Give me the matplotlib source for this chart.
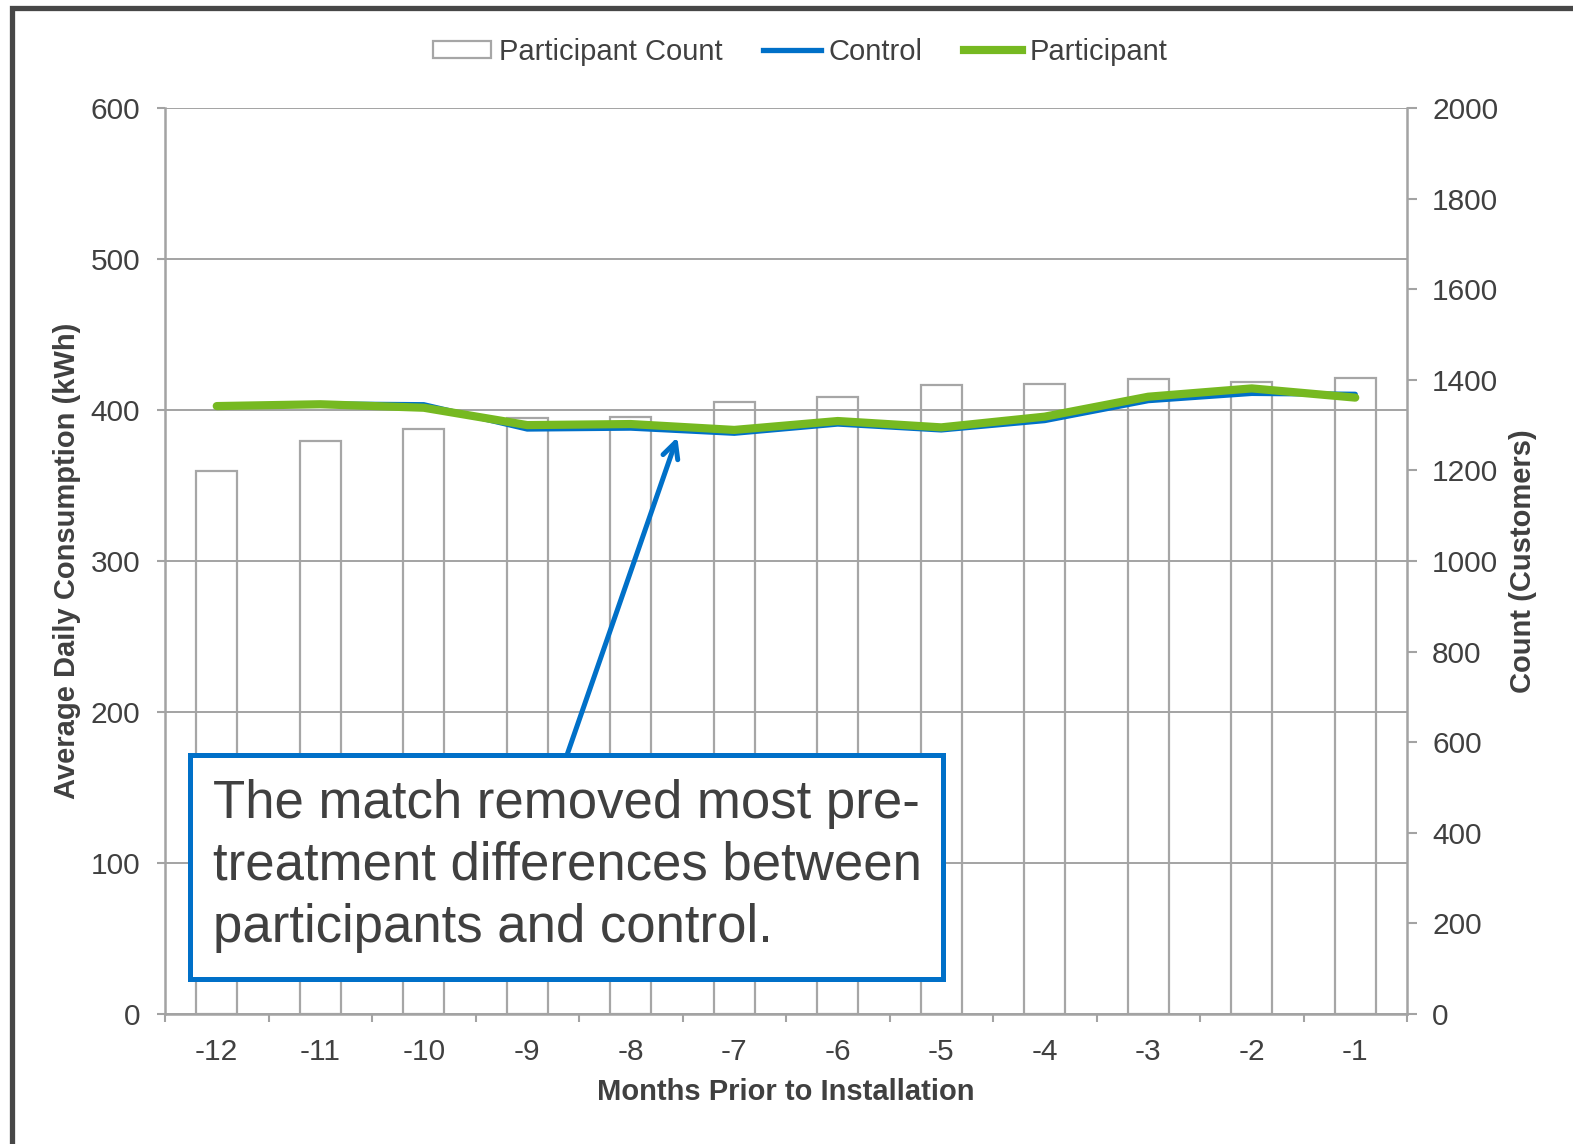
import matplotlib
matplotlib.use("Agg")
import matplotlib.pyplot as plt
from matplotlib.patches import Rectangle, Patch
from matplotlib.lines import Line2D
from matplotlib.ticker import FixedLocator, NullFormatter

plt.rcParams['font.family'] = ['Liberation Sans', 'DejaVu Sans']

# Data
months = ["-12", "-11", "-10", "-9", "-8", "-7", "-6", "-5", "-4", "-3", "-2", "-1"]
participant_count = [1199, 1265, 1291, 1315, 1317, 1352, 1363, 1389, 1391, 1402, 1395, 1404]
control_kwh = [403.0, 404.0, 403.5, 387.4, 388.0, 384.6, 390.7, 386.8, 393.0, 406.2, 411.0, 410.4]
participant_kwh = [402.6, 403.8, 401.5, 390.0, 390.7, 386.8, 392.7, 388.5, 395.6, 408.8, 414.3, 408.2]

TEXT = '#404040'
GRID = '#a3a3a3'
BAR_EDGE = '#a6a6a6'
BLUE = '#0070c8'
GREEN = '#76b921'

W, H = 1573, 1144
fig = plt.figure(figsize=(W / 100, H / 100), dpi=100)

# Outer frame of the chart area (open on right/bottom)
fig.patches.append(Rectangle((12 / W, -0.2), 1.5, 1 - 8 / H + 0.2, transform=fig.transFigure,
                             fill=False, edgecolor='#474747', linewidth=3.8))

left, right, bottom, top = 165 / W, 1407 / W, 1 - 1014 / H, 1 - 108 / H
ax = fig.add_axes([left, bottom, right - left, top - bottom])
ax2 = ax.twinx()
ax.set_zorder(ax2.get_zorder() + 1)
ax.patch.set_visible(False)

x = list(range(len(months)))

# Participant count bars (right axis)
ax2.bar(x, participant_count, width=0.4, facecolor='none', edgecolor=BAR_EDGE, linewidth=1.6)
ax2.set_ylim(0, 2000)
ax2.set_yticks(range(0, 2001, 200))
for s in ax2.spines.values():
    s.set_visible(False)
ax2.tick_params(axis='y', colors=GRID, labelcolor=TEXT, labelsize=21.5, length=7, width=1.5, pad=11)

# Consumption lines (left axis)
ax.plot(x, control_kwh, color=BLUE, linewidth=3.8, solid_capstyle='round', zorder=4)
ax.plot(x, participant_kwh, color=GREEN, linewidth=5.9, solid_capstyle='round', zorder=5)
ax.set_ylim(0, 600)
ax.set_xlim(-0.5, len(months) - 0.5)
ax.set_yticks(range(0, 601, 100))
ax.yaxis.grid(True, color=GRID, linewidth=1.4)
ax.set_axisbelow(True)
ax.set_xticks(x)
ax.set_xticklabels(months)
ax.xaxis.set_minor_locator(FixedLocator([i - 0.5 for i in range(len(months) + 1)]))
ax.xaxis.set_minor_formatter(NullFormatter())
ax.tick_params(axis='x', which='major', length=0, pad=17.5, labelsize=21.5, labelcolor=TEXT)
ax.tick_params(axis='x', which='minor', length=6, width=1.5, color=GRID)
ax.tick_params(axis='y', colors=GRID, labelcolor=TEXT, labelsize=21.5, length=6, width=1.5, pad=12)
ax.spines['top'].set_visible(False)
for side in ('left', 'right', 'bottom'):
    ax.spines[side].set_color(GRID)
    ax.spines[side].set_linewidth(1.8)

# Axis titles
fig.text(786 / W, 1 - 1092 / H, "Months Prior to Installation", ha='center', va='center',
         fontsize=21, fontweight='bold', color=TEXT)
fig.text(67 / W, 1 - 561 / H, "Average Daily Consumption (kWh)", ha='center', va='center',
         rotation=90, fontsize=21, fontweight='bold', color=TEXT)
fig.text(1523 / W, 1 - 561 / H, "Count (Customers)", ha='center', va='center',
         rotation=90, fontsize=21, fontweight='bold', color=TEXT)

# Callout box with arrow
bx0, bx1 = (190 - 165) / 1242, (943 - 165) / 1242
by0, by1 = (1014 - 979) / 906, (1014 - 755) / 906
ax.add_patch(Rectangle((bx0, by0), bx1 - bx0, by1 - by0, transform=ax.transAxes,
                       facecolor='white', edgecolor=BLUE, linewidth=3.6, zorder=10, clip_on=False))
ax.text((213 - 165) / 1242, (1014 - 866) / 906,
        "The match removed most pre-\ntreatment differences between\nparticipants and control.",
        transform=ax.transAxes, ha='left', va='center', fontsize=38, color=TEXT,
        linespacing=1.32, zorder=11)
ax.annotate('', xy=(4.45, 382), xycoords='data',
            xytext=((567 - 165) / 1242, by1), textcoords='axes fraction',
            arrowprops=dict(arrowstyle='->', color=BLUE, lw=3.6, mutation_scale=28,
                            shrinkA=0, shrinkB=0),
            zorder=9)

# Legend
handles = [Patch(facecolor='white', edgecolor=BAR_EDGE, linewidth=1.6),
           Line2D([], [], color=BLUE, linewidth=3.8),
           Line2D([], [], color=GREEN, linewidth=5.9)]
fig.legend(handles, ["Participant Count", "Control", "Participant"], loc='center',
           bbox_to_anchor=(800 / W, 1 - 52 / H), ncol=3, frameon=False, fontsize=21,
           handlelength=2.0, handleheight=0.55, handletextpad=0.25, columnspacing=1.4,
           labelcolor=TEXT)

fig.savefig("out.png", dpi=100)
